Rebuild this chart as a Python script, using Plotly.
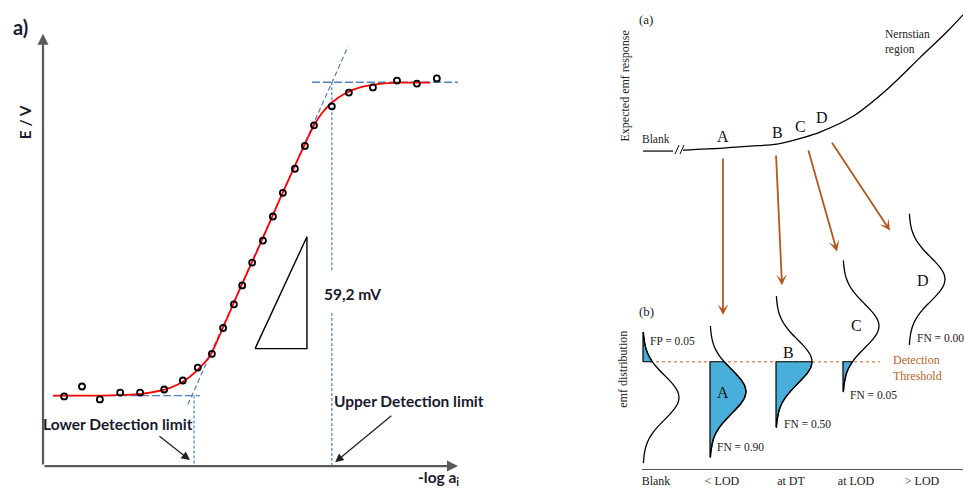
import numpy as np
import plotly.graph_objects as go

# ---------------- Left panel data (a): potentiometric calibration ----------------
# x: -log a_i (arbitrary decades), y: E (arbitrary units)
meas_x = [0.51, 0.94, 1.37, 1.86, 2.34, 2.92, 3.37, 3.73, 4.07, 4.34, 4.60, 4.80, 5.04,
          5.30, 5.54, 5.78, 6.07, 6.31, 6.53, 6.96, 7.37, 7.95, 8.53, 9.01, 9.49]
meas_y = [1.62, 1.85, 1.55, 1.71, 1.71, 1.78, 1.99, 2.29, 2.61, 3.21, 3.76, 4.20, 4.73,
          5.24, 5.80, 6.35, 6.91, 7.44, 7.92, 8.36, 8.68, 8.80, 8.96, 8.89, 9.01]
fit_x = [0.24, 1.37, 2.10, 2.58, 3.06, 3.42, 3.73, 4.02, 4.27, 4.75, 5.23, 5.71, 6.19,
         6.53, 6.72, 6.96, 7.28, 7.64, 8.12, 8.60, 9.33]
fit_y = [1.64, 1.64, 1.66, 1.71, 1.82, 1.99, 2.24, 2.56, 3.07, 4.13, 5.15, 6.21, 7.23,
         7.92, 8.20, 8.45, 8.66, 8.80, 8.88, 8.91, 8.91]
nernst_x = [3.49, 7.35]
nernst_y = [1.43, 9.75]
low_base_x = [0.24, 3.78]
low_base_y = [1.64, 1.64]
high_base_x = [6.48, 10.05]
high_base_y = [8.92, 8.92]
ldl_x = 3.64
udl_x = 6.96
tri_x = [5.11, 6.36, 6.36, 5.11]
tri_y = [2.73, 2.73, 5.33, 2.73]

# ---------------- Right panel data ----------------
# (a) expected emf response
resp_x = [4.1, 8.1, 10.8, 13.5, 16.3, 17.8, 21.1, 24.5, 27.8, 30.5, 32.1]
resp_y = [32.1, 32.3, 32.5, 32.7, 33.4, 33.9, 35.5, 38.2, 41.4, 44.0, 45.7]
blank_x = [0.1, 3.1]
blank_y = [32.0, 32.0]
levels = ["A", "B", "C", "D"]
level_x = [8.1, 13.5, 15.8, 18.0]
level_y = [33.5, 33.9, 34.5, 35.4]
arrow_tail_x = [8.1, 13.4, 16.6, 18.9]
arrow_tail_y = [31.4, 31.7, 32.2, 33.0]
arrow_tip_x = [8.1, 14.0, 19.5, 24.8]
arrow_tip_y = [15.5, 18.5, 21.9, 24.0]

# (b) emf distributions
dist_names = ["Blank", "< LOD", "at DT", "at LOD", "> LOD"]
dist_label_x = [1.4, 8.0, 14.9, 21.4, 28.0]
dist_base = [0.1, 6.8, 13.4, 20.1, 26.7]
dist_mean = [7.2, 7.8, 10.8, 14.4, 19.1]
threshold = 10.8
profile_dy = [-6.6, -6.0, -5.4, -4.8, -4.2, -3.6, -3.0, -2.4, -1.8, -1.2, -0.6, 0.0,
              0.6, 1.2, 1.8, 2.4, 3.0, 3.6, 4.2, 4.8, 5.4, 6.0, 6.6]
profile_dx = [0.04, 0.09, 0.18, 0.33, 0.58, 0.94, 1.42, 1.99, 2.58, 3.10, 3.47, 3.60,
              3.47, 3.10, 2.58, 1.99, 1.42, 0.94, 0.58, 0.33, 0.18, 0.09, 0.04]
prob_text = ["FP = 0.05", "FN = 0.90", "FN = 0.50", "FN = 0.05", "FN = 0.00"]
prob_x = [0.6, 7.3, 14.0, 20.6, 27.3]
prob_y = [12.9, 2.2, 4.5, 7.5, 13.2]
dist_letter = ["A", "B", "C", "D"]
dist_letter_x = [8.1, 14.6, 21.4, 28.1]
dist_letter_y = [7.7, 11.7, 14.4, 19.0]

BLUE = "#4f81bd"
BROWN = "#b5561b"
FILL = "#49aed9"
SERIF = "Liberation Serif"
SANS = "Lato"

fig = go.Figure()

# ---- left panel traces ----
fig.add_trace(go.Scatter(x=low_base_x, y=low_base_y, mode="lines", xaxis="x", yaxis="y",
                         line=dict(color=BLUE, width=1.3, dash="8px,3px")))
fig.add_trace(go.Scatter(x=high_base_x, y=high_base_y, mode="lines", xaxis="x", yaxis="y",
                         line=dict(color=BLUE, width=1.3, dash="8px,3px")))
fig.add_trace(go.Scatter(x=nernst_x, y=nernst_y, mode="lines", xaxis="x", yaxis="y",
                         line=dict(color=BLUE, width=1.2, dash="5px,3px")))
fig.add_trace(go.Scatter(x=[ldl_x, ldl_x], y=[low_base_y[0], 0], mode="lines", xaxis="x", yaxis="y",
                         line=dict(color=BLUE, width=1.2, dash="3px,2px")))
fig.add_trace(go.Scatter(x=[udl_x, udl_x, None, udl_x, udl_x],
                         y=[high_base_y[0], 4.55, None, 3.56, 0], mode="lines", xaxis="x", yaxis="y",
                         line=dict(color=BLUE, width=1.2, dash="3px,2px")))
fig.add_trace(go.Scatter(x=tri_x, y=tri_y, mode="lines", xaxis="x", yaxis="y",
                         line=dict(color="black", width=1.4)))
fig.add_trace(go.Scatter(x=fit_x, y=fit_y, mode="lines", xaxis="x", yaxis="y",
                         line=dict(color="#ff0000", width=1.8, shape="spline", smoothing=0.8)))
fig.add_trace(go.Scatter(x=meas_x, y=meas_y, mode="markers", xaxis="x", yaxis="y",
                         marker=dict(symbol="circle-open", size=6, color="black",
                                     line=dict(width=1.8, color="black"))))

# ---- right panel traces ----
fig.add_trace(go.Scatter(x=blank_x, y=blank_y, mode="lines", xaxis="x2", yaxis="y2",
                         line=dict(color="black", width=1.2)))
fig.add_trace(go.Scatter(x=[3.3, 3.7, None, 3.8, 4.2], y=[31.7, 32.6, None, 31.7, 32.6],
                         mode="lines", xaxis="x2", yaxis="y2", line=dict(color="black", width=1)))
fig.add_trace(go.Scatter(x=resp_x, y=resp_y, mode="lines", xaxis="x2", yaxis="y2",
                         line=dict(color="black", width=1.3, shape="spline", smoothing=0.9)))
fig.add_trace(go.Scatter(x=[0.8, 23.8], y=[threshold, threshold], mode="lines", xaxis="x2", yaxis="y2",
                         line=dict(color="#e0906a", width=1.5, dash="dot")))

dy = np.array(profile_dy)
dx = np.array(profile_dx)
for i in range(len(dist_names)):
    cy = dist_mean[i] + dy
    cx = dist_base[i] + dx
    if i == 0:
        mask = cy >= threshold - 1e-6
    else:
        mask = cy <= threshold + 1e-6
    if mask.sum() >= 2:
        sx, sy = cx[mask], cy[mask]
        px = [dist_base[i]] + list(sx) + [dist_base[i], dist_base[i]]
        py = [sy[0]] + list(sy) + [sy[-1], sy[0]]
        fig.add_trace(go.Scatter(x=px, y=py, mode="lines", fill="toself", fillcolor=FILL,
                                 xaxis="x2", yaxis="y2", line=dict(color="black", width=1.2)))
    fig.add_trace(go.Scatter(x=cx, y=cy, mode="lines", xaxis="x2", yaxis="y2",
                             line=dict(color="black", width=1.3, shape="spline", smoothing=0.6)))

annotations = []
# left axes arrows
annotations.append(dict(x=0, y=10.05, ax=0, ay=0, xref="x", yref="y", axref="x", ayref="y", text="",
                        showarrow=True, arrowhead=2, arrowsize=1.0, arrowwidth=2.2, arrowcolor="#5a5a5a"))
annotations.append(dict(x=10.0, y=0, ax=0, ay=0, xref="x", yref="y", axref="x", ayref="y", text="",
                        showarrow=True, arrowhead=2, arrowsize=1.0, arrowwidth=2.2, arrowcolor="#5a5a5a"))
# detection limit arrows
annotations.append(dict(x=3.54, y=0.14, ax=2.77, ay=0.72, xref="x", yref="y", axref="x", ayref="y",
                        text="", showarrow=True, arrowhead=2, arrowsize=1.3, arrowwidth=1.3,
                        arrowcolor="#222"))
annotations.append(dict(x=7.04, y=0.09, ax=8.43, ay=1.20, xref="x", yref="y", axref="x", ayref="y",
                        text="", showarrow=True, arrowhead=2, arrowsize=1.3, arrowwidth=1.3,
                        arrowcolor="#222"))
lfont = dict(family=SANS, size=15.5, color="#1a1a2e")
annotations += [
    dict(x=20 / 965, y=1 - 27 / 488, xref="paper", yref="paper", xanchor="center", yanchor="middle",
         text="<b>a)</b>", showarrow=False, font=dict(family=SANS, size=20, color="#1a1a2e")),
    dict(x=25 / 965, y=1 - 123 / 488, xref="paper", yref="paper", xanchor="center", yanchor="middle",
         text="<b>E / V</b>", showarrow=False, textangle=-90,
         font=dict(family=SANS, size=15.5, color="#1a1a2e")),
    dict(x=7.45, y=4.0, xref="x", yref="y", text="<b>59,2 mV</b>", showarrow=False, font=lfont),
    dict(x=1.81, y=0.97, xref="x", yref="y", text="<b>Lower Detection limit</b>", showarrow=False,
         font=lfont),
    dict(x=8.83, y=1.52, xref="x", yref="y", text="<b>Upper Detection limit</b>", showarrow=False,
         font=lfont),
    dict(x=438 / 965, y=1 - 481 / 488, xref="paper", yref="paper", xanchor="center", yanchor="middle",
         text="<b>-log a<sub>i</sub></b>", showarrow=False, font=lfont),
]

# right panel arrows
for tx, ty, hx, hy in zip(arrow_tail_x, arrow_tail_y, arrow_tip_x, arrow_tip_y):
    annotations.append(dict(x=hx, y=hy, ax=tx, ay=ty, xref="x2", yref="y2", axref="x2", ayref="y2",
                            text="", showarrow=True, arrowhead=3, arrowsize=1.0, arrowwidth=1.8,
                            arrowcolor=BROWN))
sfont = dict(family=SERIF, size=11.5, color="#222")
annotations += [
    dict(x=0.4, y=45.2, xref="x2", yref="y2", text="(a)", showarrow=False,
         font=dict(family=SERIF, size=13, color="#222")),
    dict(x=0.4, y=15.9, xref="x2", yref="y2", text="(b)", showarrow=False,
         font=dict(family=SERIF, size=13, color="#222")),
    dict(x=1.35, y=33.2, xref="x2", yref="y2", text="Blank", showarrow=False, font=sfont),
    dict(x=24.1, y=42.95, xref="x2", yref="y2", text="Nernstian<br>region", showarrow=False,
         xanchor="left", align="left", font=sfont),
    dict(x=625 / 965, y=1 - 87 / 488, xref="paper", yref="paper", xanchor="center", yanchor="middle",
         text="Expected emf response", showarrow=False, textangle=-90,
         font=dict(family=SERIF, size=12, color="#222")),
    dict(x=623 / 965, y=1 - 372 / 488, xref="paper", yref="paper", xanchor="center", yanchor="middle",
         text="emf distribution", showarrow=False, textangle=-90,
         font=dict(family=SERIF, size=12, color="#222")),
    dict(x=24.9, y=10.2, xref="x2", yref="y2", text="Detection<br>Threshold", showarrow=False,
         xanchor="left", align="left", font=dict(family=SERIF, size=12, color="#b8652a")),
]
for t, x, y in zip(levels, level_x, level_y):
    annotations.append(dict(x=x, y=y, xref="x2", yref="y2", text=t, showarrow=False,
                            font=dict(family=SERIF, size=16, color="#111")))
for t, x, y in zip(dist_letter, dist_letter_x, dist_letter_y):
    annotations.append(dict(x=x, y=y, xref="x2", yref="y2", text=t, showarrow=False,
                            font=dict(family=SERIF, size=16, color="#111")))
for t, x, y in zip(prob_text, prob_x, prob_y):
    annotations.append(dict(x=x, y=y, xref="x2", yref="y2", text=t, showarrow=False,
                            xanchor="left", font=dict(family=SERIF, size=11.5, color="#222")))

fig.update_layout(
    width=965, height=488, margin=dict(l=0, r=0, t=0, b=0),
    paper_bgcolor="white", plot_bgcolor="white", showlegend=False,
    xaxis=dict(domain=[43 / 965, 458 / 965], range=[0, 10], visible=False),
    yaxis=dict(domain=[19 / 488, 452 / 488], range=[0, 10], visible=False),
    xaxis2=dict(domain=[642 / 965, 963 / 965], range=[0, 32.1], anchor="y2", showline=True,
                linecolor="#555", linewidth=1.2, showgrid=False, zeroline=False, ticks="",
                tickmode="array", tickvals=dist_label_x, ticktext=dist_names,
                tickfont=dict(family=SERIF, size=12, color="#222")),
    yaxis2=dict(domain=[16 / 488, 1], range=[0, 47.2], anchor="x2", visible=False),
    annotations=annotations,
)

fig.write_html("out.html", config={"displayModeBar": False},
               post_script="document.body.style.margin='0';document.body.style.overflow='hidden';")
